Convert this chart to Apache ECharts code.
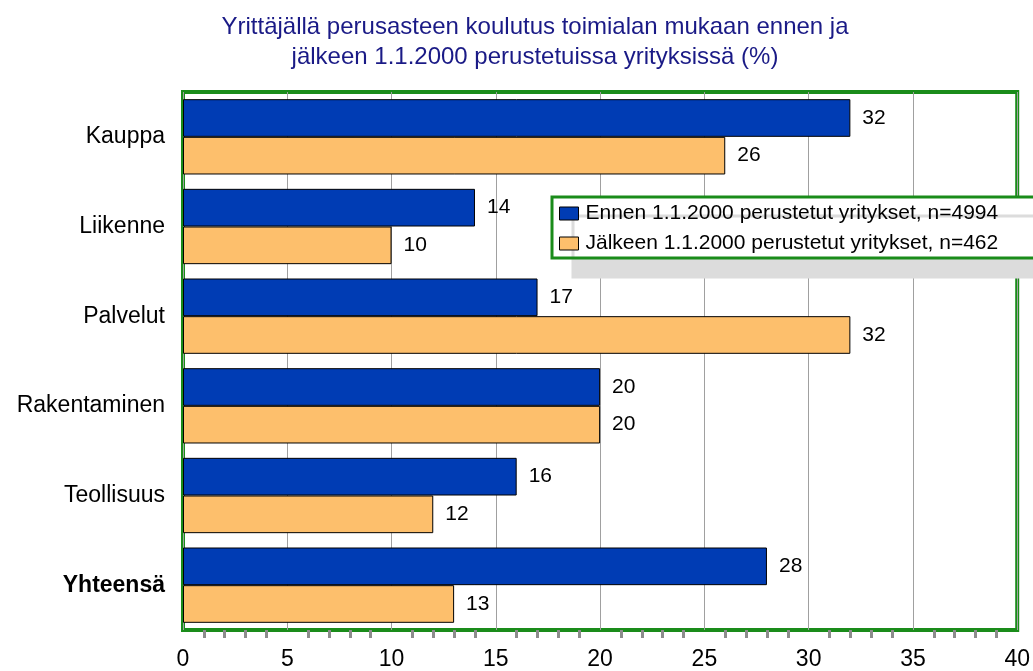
<!DOCTYPE html>
<html>
<head>
<meta charset="utf-8">
<script src="https://cdn.jsdelivr.net/npm/echarts@6/dist/echarts.min.js"></script>
<style>
	html, body { margin: 0; padding: 0; background: #fff; }
	#chart { width: 1033px; height: 671px; }
</style>
</head>
<body>
<div id="chart"></div>
<script>
	// data
	var categories = ['Kauppa', 'Liikenne', 'Palvelut', 'Rakentaminen', 'Teollisuus', 'Yhteensä'];
	var ennenValues = [32, 14, 17, 20, 16, 28];
	var jalkeenValues = [26, 10, 32, 20, 12, 13];
	var seriesNames = ['Ennen 1.1.2000 perustetut yritykset, n=4994', 'Jälkeen 1.1.2000 perustetut yritykset, n=462'];

	var font = '"Liberation Sans", Arial, sans-serif';
	var myChart = echarts.init(document.getElementById('chart'));

	var valueLabel = {
		show: true,
		position: 'right',
		distance: 12,
		color: '#000',
		fontSize: 21,
		fontFamily: font
	};

	var option = {
		animation: false,
		title: {
			text: 'Yrittäjällä perusasteen koulutus toimialan mukaan ennen ja\njälkeen 1.1.2000 perustetuissa yrityksissä (%)',
			left: 530,
			top: 7,
			textAlign: 'center',
			textStyle: {
				color: '#1a1a86',
				fontSize: 24,
				fontWeight: 'normal',
				fontFamily: font,
				lineHeight: 30
			}
		},
		legend: {
			orient: 'vertical',
			left: 552,
			top: 197,
			padding: [6, 80, 4, 7],
			itemGap: 9,
			itemWidth: 19,
			itemHeight: 13,
			icon: 'rect',
			backgroundColor: '#fff',
			borderColor: '#1a8c1a',
			borderWidth: 3,
			shadowColor: '#dcdcdc',
			shadowBlur: 0,
			shadowOffsetX: 21,
			shadowOffsetY: 19,
			itemStyle: { borderColor: '#000', borderWidth: 1 },
			textStyle: {
				color: '#000',
				fontSize: 21,
				fontFamily: font,
				padding: [0, 0, 0, 2]
			},
			data: seriesNames
		},
		grid: {
			left: 183,
			top: 92,
			width: 835,
			height: 543,
			show: true,
			borderColor: '#1a8c1a',
			borderWidth: 4,
			containLabel: false
		},
		xAxis: {
			type: 'value',
			min: 0,
			max: 40,
			interval: 5,
			axisLine: { show: false },
			axisTick: { show: false },
			minorTick: {
				show: true,
				splitNumber: 5,
				length: 8,
				lineStyle: { color: '#8c8c8c', width: 3 }
			},
			splitLine: {
				show: true,
				lineStyle: { color: '#a0a0a0', width: 1 }
			},
			axisLabel: {
				color: '#000',
				fontSize: 23,
				fontFamily: font,
				margin: 18
			}
		},
		yAxis: {
			type: 'category',
			inverse: true,
			data: categories,
			axisLine: { show: false },
			axisTick: { show: false },
			axisLabel: {
				color: '#000',
				fontSize: 23,
				fontFamily: font,
				margin: 18,
				formatter: function (value) {
					return value === 'Yhteensä' ? '{b|' + value + '}' : value;
				},
				rich: {
					b: { fontWeight: 'bold', fontSize: 23, fontFamily: font, color: '#000' }
				}
			}
		},
		series: [
			{
				name: seriesNames[0],
				type: 'bar',
				data: ennenValues,
				barGap: '0%',
				barCategoryGap: '16%',
				itemStyle: { color: '#003cb4', borderColor: '#000', borderWidth: 1 },
				label: valueLabel
			},
			{
				name: seriesNames[1],
				type: 'bar',
				data: jalkeenValues,
				barGap: '0%',
				barCategoryGap: '16%',
				itemStyle: { color: '#fdbf6c', borderColor: '#000', borderWidth: 1 },
				label: valueLabel
			}
		]
	};
	myChart.setOption(option);
</script>
</body>
</html>
